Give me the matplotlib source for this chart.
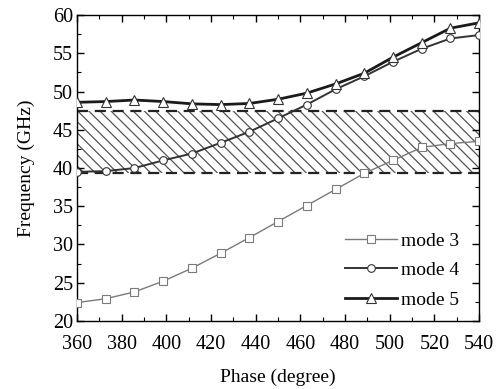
import numpy as np
import matplotlib
matplotlib.use("Agg")
import matplotlib.pyplot as plt
from matplotlib.ticker import MultipleLocator

plt.rcParams["font.family"] = ["Liberation Serif", "DejaVu Serif"]
plt.rcParams["hatch.linewidth"] = 0.9
plt.rcParams["hatch.color"] = "#555555"

phase = np.linspace(360, 540, 15)
mode3 = [22.4, 22.9, 23.8, 25.2, 26.9, 28.85, 30.9, 33.0, 35.1, 37.2, 39.3, 41.0, 42.7, 43.2, 43.5]
mode4 = [39.5, 39.6, 40.0, 41.0, 41.9, 43.3, 44.75, 46.5, 48.3, 50.3, 52.0, 53.9, 55.6, 56.95, 57.4]
mode5 = [48.6, 48.7, 48.9, 48.7, 48.4, 48.3, 48.45, 49.0, 49.8, 51.0, 52.4, 54.5, 56.4, 58.3, 59.0]
band_lo, band_hi = 39.3, 47.5

fig = plt.figure(figsize=(4.97, 3.89), dpi=100)
ax = fig.add_axes([0.155, 0.175, 0.809, 0.786])

ax.fill_between([360, 540], band_lo, band_hi, facecolor="white", hatch="\\\\\\",
                edgecolor="#555555", linewidth=0, zorder=1)
for yb in (band_lo, band_hi):
    ax.axhline(yb, color="#222222", lw=1.6, ls=(0, (5, 3)), zorder=2)

ax.plot(phase, mode3, color="#7a7a7a", lw=1.0, marker="s", ms=5.5, mfc="white",
        mec="#7a7a7a", mew=0.8, label="mode 3", zorder=3)
ax.plot(phase, mode4, color="#333333", lw=1.4, marker="o", ms=5.5, mfc="white",
        mec="#333333", mew=0.8, label="mode 4", zorder=4)
ax.plot(phase, mode5, color="#1a1a1a", lw=2.0, marker="^", ms=7, mfc="white",
        mec="#333333", mew=0.8, label="mode 5", zorder=5)

ax.set_xlim(360, 540)
ax.set_ylim(20, 60)
ax.xaxis.set_major_locator(MultipleLocator(20))
ax.xaxis.set_minor_locator(MultipleLocator(10))
ax.yaxis.set_major_locator(MultipleLocator(5))
ax.yaxis.set_minor_locator(MultipleLocator(2.5))
ax.tick_params(which="both", direction="in", top=True, right=True, labelsize=14.5)
ax.tick_params(axis="x", pad=10)
ax.tick_params(axis="y", pad=3)
ax.tick_params(which="major", length=5, width=1)
ax.tick_params(which="minor", length=3, width=0.8)
for s in ax.spines.values():
    s.set_linewidth(1.0)

ax.set_xlabel("Phase (degree)", fontsize=14, labelpad=11)
ax.set_ylabel("Frequency (GHz)", fontsize=14, labelpad=13)

ax.legend(loc="lower right", frameon=False, fontsize=14, handlelength=2.7,
          labelspacing=0.62, handletextpad=0.2, borderaxespad=0.3,
          bbox_to_anchor=(0.985, -0.005))

fig.savefig("out.png", dpi=100)
